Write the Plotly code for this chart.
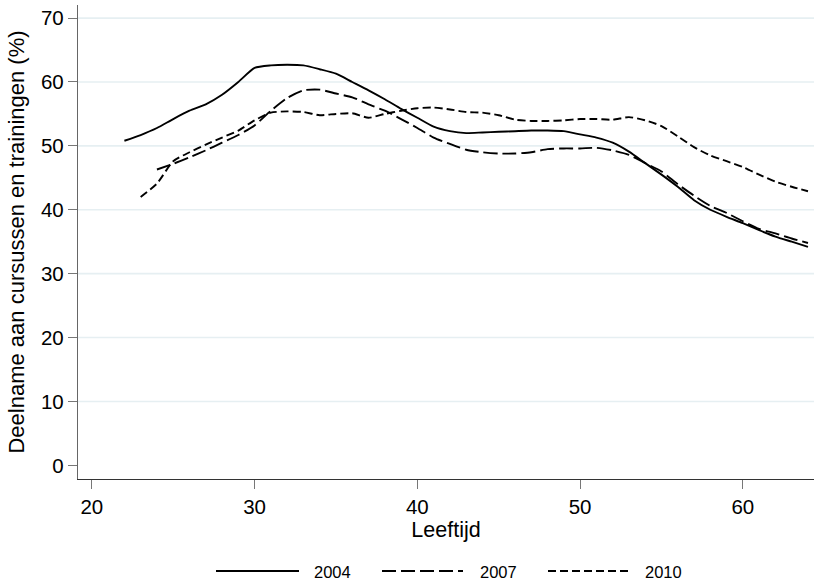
import plotly.graph_objects as go

ages_2004 = list(range(22, 65))
vals_2004 = [50.8, 51.7, 52.8, 54.2, 55.5, 56.5, 58.0, 60.0, 62.2, 62.6,
             62.7, 62.6, 62.0, 61.3, 60.0, 58.7, 57.3, 55.8, 54.4, 53.0,
             52.3, 52.0, 52.1, 52.2, 52.3, 52.4, 52.4, 52.3, 51.8, 51.3,
             50.5, 49.1, 47.3, 45.5, 43.6, 41.5, 40.0, 38.9, 37.9, 36.8,
             35.8, 35.0, 34.2]

ages_2007 = list(range(24, 65))
vals_2007 = [46.3, 47.2, 48.2, 49.3, 50.5, 51.7, 53.2, 55.5, 57.5, 58.7,
             58.8, 58.2, 57.6, 56.5, 55.5, 54.2, 52.8, 51.3, 50.3, 49.4,
             49.0, 48.8, 48.8, 49.0, 49.5, 49.6, 49.6, 49.7, 49.3, 48.6,
             47.3, 46.0, 44.0, 42.2, 40.6, 39.5, 38.2, 37.0, 36.3, 35.5,
             34.8]

ages_2010 = list(range(23, 65))
vals_2010 = [42.0, 44.1, 47.6, 49.0, 50.2, 51.3, 52.4, 54.0, 55.2, 55.4,
             55.3, 54.8, 55.0, 55.1, 54.4, 55.0, 55.5, 55.9, 56.0, 55.7,
             55.3, 55.2, 54.8, 54.1, 53.9, 53.9, 54.0, 54.2, 54.2, 54.1,
             54.5, 54.0, 53.1, 51.5, 49.8, 48.5, 47.6, 46.7, 45.5, 44.4,
             43.6, 42.9]

series_names = ["2004", "2007", "2010"]
series_dash = ["solid", "14px,5px", "8px,4px"]

x_ticks = [20, 30, 40, 50, 60]
y_ticks = [0, 10, 20, 30, 40, 50, 60, 70]
grid_vals = [10, 20, 30, 40, 50, 60, 70]

FONT = "Liberation Sans, Arial, Helvetica, sans-serif"

fig = go.Figure()
for name, xs, ys, dash in zip(series_names,
                              [ages_2004, ages_2007, ages_2010],
                              [vals_2004, vals_2007, vals_2010],
                              series_dash):
    fig.add_trace(go.Scatter(x=xs, y=ys, mode="lines", name=name,
                             line=dict(color="black", width=1.9, dash=dash,
                                       shape="spline", smoothing=0.6),
                             showlegend=False))

# horizontal gridlines (light blue), below data
for g in grid_vals:
    fig.add_shape(type="line", xref="paper", yref="y", x0=0, x1=1, y0=g, y1=g,
                  line=dict(color="#e6eff2", width=1.6), layer="below")

# manual legend, positioned in pixels
L, R, T, B = 78, 2, 5, 105
W, H = 816 - L - R, 584 - T - B

def px_x(p):
    return (p - L) / W

def px_y(p):
    return (584 - B - p) / H

legend_items = [(216, 299, 312), (382, 463, 478), (548, 630, 643)]
for (x0, x1, tx), name, dash in zip(legend_items, series_names, series_dash):
    fig.add_shape(type="line", xref="paper", yref="paper",
                  x0=px_x(x0), x1=px_x(x1), y0=px_y(571), y1=px_y(571),
                  line=dict(color="black", width=2, dash=dash))
    fig.add_annotation(xref="paper", yref="paper", x=px_x(tx), y=px_y(572),
                       text=name, showarrow=False, xanchor="left",
                       yanchor="middle", font=dict(size=16.5, color="black",
                                                   family=FONT))

fig.update_layout(
    width=816, height=584,
    margin=dict(l=L, r=R, t=T, b=B),
    paper_bgcolor="white", plot_bgcolor="white",
    font=dict(family=FONT, color="black", size=20),
    showlegend=False,
    xaxis=dict(range=[19.15, 64.37], tickvals=x_ticks, ticks="outside",
               ticklen=9, tickwidth=1.3, tickcolor="#777777",
               showline=True, linecolor="#333333", linewidth=1.3,
               showgrid=False, zeroline=False,
               tickfont=dict(size=20.5, color="black"),
               title=dict(text="Leeftijd", font=dict(size=21.5, color="black"),
                          standoff=0),
               automargin=False),
    yaxis=dict(range=[-2.14, 72.05], tickvals=y_ticks, ticks="outside",
               ticklen=9, tickwidth=1.3, tickcolor="#777777",
               showline=True, linecolor="#666666", linewidth=1.3,
               showgrid=False, zeroline=False,
               tickfont=dict(size=20.5, color="black"),
               title=dict(text="Deelname aan cursussen en trainingen (%)",
                          font=dict(size=22, color="black"), standoff=10),
               automargin=False),
)

fig.write_html("out.html",
               config={"displayModeBar": False},
               post_script="document.body.style.margin='0';"
                           "document.body.style.overflow='hidden';")
